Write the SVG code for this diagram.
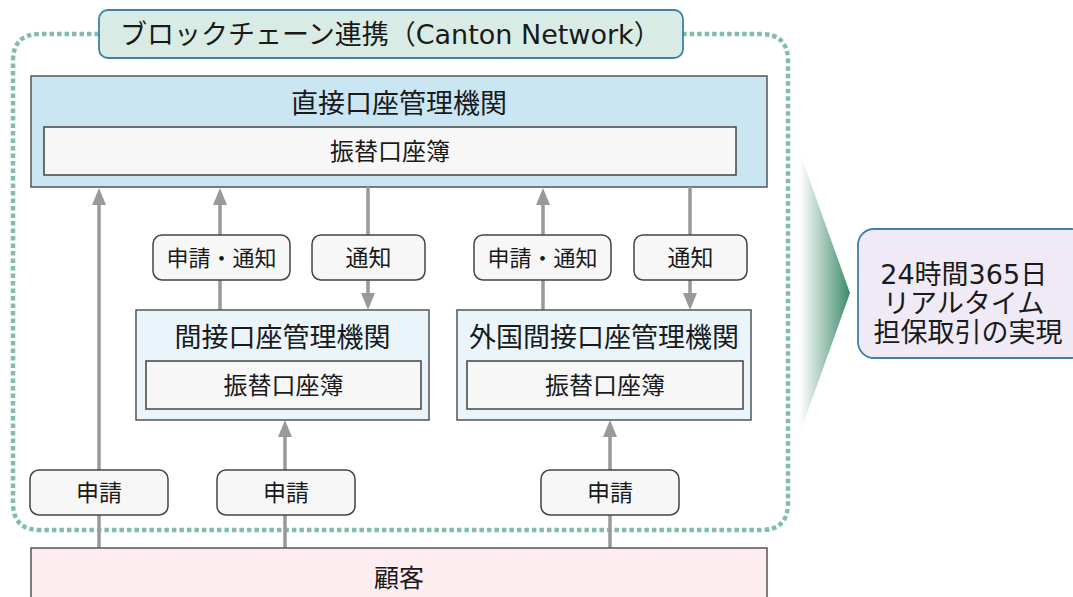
<svg xmlns="http://www.w3.org/2000/svg" width="1073" height="597" viewBox="0 0 1073 597">
<defs>
<style>
.jp{font-family:"Noto Sans CJK JP","Noto Sans",sans-serif;fill:#1a1a1a}
.mx{font-family:"DejaVu Sans","Noto Sans CJK JP",sans-serif;fill:#1a1a1a}
.org{fill:#c9e6f2;stroke:#555;stroke-width:1.5}
.sub{fill:#e9f5fb;stroke:#555;stroke-width:1.5}
.book{fill:#f7f7f7;stroke:#444;stroke-width:1.5}
.lbl{fill:#f7f7f7;stroke:#444;stroke-width:1.5}
.ln{stroke:#999;stroke-width:3.5;fill:none}
.hd{fill:#999}
</style>
<linearGradient id="grad" x1="0" y1="0" x2="1" y2="0">
<stop offset="0" stop-color="#ffffff"/>
<stop offset="1" stop-color="#3e8a6b"/>
</linearGradient>
</defs>
<rect width="1073" height="597" fill="#ffffff"/>

<g id="boundary">
<path d="M99,34 H40 Q13,34 13,61 V503 Q13,530 40,530 H761 Q788,530 788,503 V61 Q788,34 761,34 H683" fill="none" stroke="#80bfa5" stroke-width="4.5" stroke-dasharray="4.5 3"/>
</g>

<g id="title">
<rect x="99" y="10" width="584" height="48" rx="9" fill="#d8ece5" stroke="#3f80a8" stroke-width="1.8"/>
<text x="120" y="44" class="mx" font-size="27">ブロックチェーン連携（Canton Network）</text>
</g>

<g id="direct">
<rect x="31" y="76" width="736" height="111" class="org"/>
<text x="399" y="113" class="jp" font-size="27" text-anchor="middle">直接口座管理機関</text>
<rect x="44" y="127" width="692" height="48" class="book"/>
<text x="390" y="160" class="jp" font-size="24" text-anchor="middle">振替口座簿</text>
</g>

<g id="connectors">
<line x1="99" y1="548" x2="99" y2="203" class="ln"/>
<polygon points="99,188 92,205 106,205" class="hd"/>
<line x1="220" y1="310" x2="220" y2="203" class="ln"/>
<polygon points="220,188 213,205 227,205" class="hd"/>
<line x1="368" y1="187" x2="368" y2="295" class="ln"/>
<polygon points="368,310 361,293 375,293" class="hd"/>
<line x1="543" y1="310" x2="543" y2="203" class="ln"/>
<polygon points="543,188 536,205 550,205" class="hd"/>
<line x1="690" y1="187" x2="690" y2="295" class="ln"/>
<polygon points="690,310 683,293 697,293" class="hd"/>
<line x1="285" y1="548" x2="285" y2="435" class="ln"/>
<polygon points="285,420 278,437 292,437" class="hd"/>
<line x1="610" y1="548" x2="610" y2="435" class="ln"/>
<polygon points="610,420 603,437 617,437" class="hd"/>
</g>

<g id="label-req-notify-1">
<rect x="153" y="235" width="137" height="45" rx="9" class="lbl"/>
<text x="221.5" y="266" class="jp" font-size="22" text-anchor="middle">申請・通知</text>
</g>
<g id="label-notify-1">
<rect x="312" y="235" width="113" height="45" rx="9" class="lbl"/>
<text x="368.5" y="266" class="jp" font-size="23" text-anchor="middle">通知</text>
</g>
<g id="label-req-notify-2">
<rect x="474" y="235" width="137" height="45" rx="9" class="lbl"/>
<text x="542.5" y="266" class="jp" font-size="22" text-anchor="middle">申請・通知</text>
</g>
<g id="label-notify-2">
<rect x="634" y="235" width="113" height="45" rx="9" class="lbl"/>
<text x="690.5" y="266" class="jp" font-size="23" text-anchor="middle">通知</text>
</g>

<g id="indirect">
<rect x="136" y="310" width="293" height="110" class="sub"/>
<text x="282.5" y="347" class="jp" font-size="27" text-anchor="middle">間接口座管理機関</text>
<rect x="146" y="361" width="275" height="48" class="book"/>
<text x="283.5" y="394" class="jp" font-size="24" text-anchor="middle">振替口座簿</text>
</g>

<g id="foreign-indirect">
<rect x="457" y="310" width="294" height="110" class="sub"/>
<text x="604" y="347" class="jp" font-size="27" text-anchor="middle">外国間接口座管理機関</text>
<rect x="467" y="361" width="276" height="48" class="book"/>
<text x="605" y="394" class="jp" font-size="24" text-anchor="middle">振替口座簿</text>
</g>

<g id="label-req-1">
<rect x="30" y="470" width="138" height="45" rx="9" class="lbl"/>
<text x="99" y="501" class="jp" font-size="23" text-anchor="middle">申請</text>
</g>
<g id="label-req-2">
<rect x="217" y="470" width="138" height="45" rx="9" class="lbl"/>
<text x="286" y="501" class="jp" font-size="23" text-anchor="middle">申請</text>
</g>
<g id="label-req-3">
<rect x="541" y="470" width="138" height="45" rx="9" class="lbl"/>
<text x="610" y="501" class="jp" font-size="23" text-anchor="middle">申請</text>
</g>

<g id="customer">
<rect x="31" y="548" width="736" height="60" fill="#fdedf0" stroke="#555" stroke-width="1.5"/>
<text x="399" y="587" class="jp" font-size="25" text-anchor="middle">顧客</text>
</g>

<g id="result-arrow">
<polygon points="800,153 850,293 800,433" fill="url(#grad)"/>
</g>

<g id="result">
<rect x="858" y="229" width="230" height="129" rx="16" fill="#efeaf6" stroke="#3f80a8" stroke-width="1.8"/>
<text class="mx" font-size="27" text-anchor="middle">
<tspan x="968" y="284">24時間365日</tspan>
<tspan x="968" y="313">リアルタイム</tspan>
<tspan x="968" y="342">担保取引の実現</tspan>
</text>
</g>
</svg>
